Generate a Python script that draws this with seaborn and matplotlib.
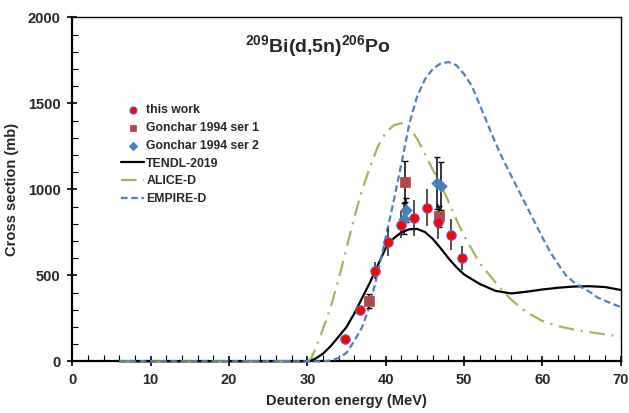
import numpy as np
import pandas as pd
import matplotlib
matplotlib.use("Agg")
import matplotlib.pyplot as plt
from matplotlib.ticker import MultipleLocator
import seaborn as sns

# Measured cross sections, 209Bi(d,5n)206Po
this_e = [34.8, 36.7, 38.6, 40.3, 42.0, 43.6, 45.2, 46.7, 48.3, 49.7]
this_xs = [132, 299, 527, 692, 795, 836, 894, 812, 735, 602]
this_err = [10, 20, 50, 82, 80, 105, 107, 100, 90, 70]

gon1_e = [37.9, 42.5, 46.8]
gon1_xs = [350, 1044, 843]
gon1_err = [41, 120, 60]

gon2_e = [42.3, 42.6, 46.6, 47.0]
gon2_xs = [830, 882, 1038, 1018]
gon2_err = [90, 70, 150, 140]

# Model calculations
tendl_e = [6, 10, 20, 29, 30, 31, 32, 33, 34, 35, 36, 37, 38, 39, 40, 41, 42, 43, 44,
           45, 46, 47, 48, 49, 50, 52, 54, 56, 58, 60, 62, 64, 66, 68, 70]
tendl_xs = [0, 0, 0, 0, 0, 15, 45, 90, 145, 200, 280, 370, 460, 560, 660, 715, 750,
            768, 770, 752, 712, 658, 600, 548, 505, 450, 410, 395, 405, 418, 428, 435,
            437, 432, 415]

alice_e = [6, 10, 20, 29, 30, 30.5, 31, 32, 33, 34, 35, 36, 37, 38, 39, 40, 41, 42, 43,
           44, 45, 46, 47, 48, 49, 50, 51, 52, 53, 54, 55, 56, 57, 58, 59, 60, 62, 64,
           66, 68, 70]
alice_xs = [0, 0, 0, 0, 0, 20, 70, 190, 320, 480, 660, 840, 1000, 1130, 1250, 1330,
            1372, 1385, 1360, 1295, 1205, 1115, 1030, 930, 825, 730, 650, 570, 515, 460,
            405, 360, 320, 285, 260, 235, 205, 185, 170, 157, 143]

empire_e = [6, 10, 20, 30, 32, 33, 34, 35, 36, 37, 38, 39, 40, 41, 42, 43, 44, 45, 46,
            47, 48, 49, 50, 51, 52, 53, 54, 55, 56, 57, 58, 59, 60, 61, 62, 63, 64, 65,
            66, 67, 68, 69, 70]
empire_xs = [0, 0, 0, 0, 0, 5, 20, 50, 120, 200, 330, 520, 720, 930, 1150, 1380, 1540,
             1640, 1700, 1732, 1740, 1722, 1670, 1600, 1490, 1380, 1270, 1170, 1080, 990,
             900, 810, 720, 635, 565, 500, 460, 430, 405, 372, 352, 333, 316]

x_ticks = [0, 10, 20, 30, 40, 50, 60, 70]
y_ticks = [0, 500, 1000, 1500, 2000]

sns.set_theme(style="white")
plt.rcParams["font.family"] = ["Liberation Sans", "DejaVu Sans"]
plt.rcParams["font.weight"] = "bold"
plt.rcParams["mathtext.fontset"] = "custom"
plt.rcParams["mathtext.rm"] = "Liberation Sans:bold"
plt.rcParams["mathtext.bf"] = "Liberation Sans:bold"

fig = plt.figure(figsize=(6.29, 4.13), dpi=100)
ax = fig.add_axes([0.115, 0.125, 0.872, 0.833])

red = "#FF0000"
brown = "#B24747"
blue_pt = "#4A7EBB"
green = "#9BBB59"
blue_ln = "#4F81BD"

# model curves
sns.lineplot(x=tendl_e, y=tendl_xs, ax=ax, color="black", lw=1.6, label="TENDL-2019",
             zorder=3, sort=False, clip_on=False)
sns.lineplot(x=alice_e, y=alice_xs, ax=ax, color=green, lw=1.6, label="ALICE-D",
             linestyle=(0, (7, 3, 1, 3)), zorder=3, sort=False, clip_on=False)
sns.lineplot(x=empire_e, y=empire_xs, ax=ax, color=blue_ln, lw=1.6, label="EMPIRE-D",
             linestyle=(0, (3, 1.6)), zorder=3, sort=False, clip_on=False)

# experimental error bars
ax.errorbar(gon1_e, gon1_xs, yerr=gon1_err, fmt="none", ecolor="black",
            elinewidth=1.1, capsize=2.5, capthick=1.0, zorder=4)
ax.errorbar(gon2_e, gon2_xs, yerr=gon2_err, fmt="none", ecolor="black",
            elinewidth=1.1, capsize=2.5, capthick=1.0, zorder=4)
ax.errorbar(this_e, this_xs, yerr=this_err, fmt="none", ecolor="#222222",
            elinewidth=1.1, capsize=0, zorder=4)

# experimental points
sns.scatterplot(x=gon1_e, y=gon1_xs, ax=ax, marker="s", s=44, color=brown,
                edgecolor=brown, linewidth=0.5, label="Gonchar 1994 ser 1", zorder=5)
sns.scatterplot(x=gon2_e, y=gon2_xs, ax=ax, marker="D", s=34, color=blue_pt,
                edgecolor=blue_pt, linewidth=0.5, label="Gonchar 1994 ser 2", zorder=5)
sns.scatterplot(x=this_e, y=this_xs, ax=ax, marker="o", s=46, color=red,
                edgecolor="#6F5FB8", linewidth=0.8, label="this work", zorder=6)

ax.set_xlim(0, 70)
ax.set_ylim(0, 2000)
ax.set_xticks(x_ticks)
ax.set_yticks(y_ticks)
ax.xaxis.set_minor_locator(MultipleLocator(2))
ax.yaxis.set_minor_locator(MultipleLocator(100))
ax.tick_params(axis="both", which="major", direction="inout", length=7, width=1.2,
               color="black", labelsize=10.5)
ax.tick_params(axis="x", which="major", pad=5)
ax.tick_params(axis="y", which="major", pad=5)
ax.tick_params(axis="both", which="minor", direction="in", length=4, width=0.8,
               color="black")
ax.tick_params(axis="both", which="both", bottom=True, left=True, top=False, right=False)
for lab in ax.get_xticklabels() + ax.get_yticklabels():
    lab.set_fontweight("bold")

for side in ["left", "bottom"]:
    ax.spines[side].set_linewidth(1.6)
    ax.spines[side].set_color("black")
for side in ["top", "right"]:
    ax.spines[side].set_linewidth(1.0)
    ax.spines[side].set_color("black")

ax.set_xlabel("Deuteron energy (MeV)", fontsize=10.5, fontweight="bold", labelpad=5)
ax.set_ylabel("Cross section (mb)", fontsize=10.5, fontweight="bold", labelpad=6)

ax.text(0.448, 0.914, r"$^{209}$Bi(d,5n)$^{206}$Po", transform=ax.transAxes,
        ha="center", va="center", fontsize=14, fontweight="bold")

handles, labels = ax.get_legend_handles_labels()
order = ["this work", "Gonchar 1994 ser 1", "Gonchar 1994 ser 2",
         "TENDL-2019", "ALICE-D", "EMPIRE-D"]
hmap = dict(zip(labels, handles))
leg = ax.legend([hmap[k] for k in order], order, loc="upper left",
                bbox_to_anchor=(0.078, 0.765), frameon=False, borderpad=0,
                handlelength=1.85, handletextpad=0.2, labelspacing=0.47,
                prop={"size": 8.8, "weight": "bold"}, markerscale=0.75)

fig.savefig("out.png", dpi=100, facecolor="white")
